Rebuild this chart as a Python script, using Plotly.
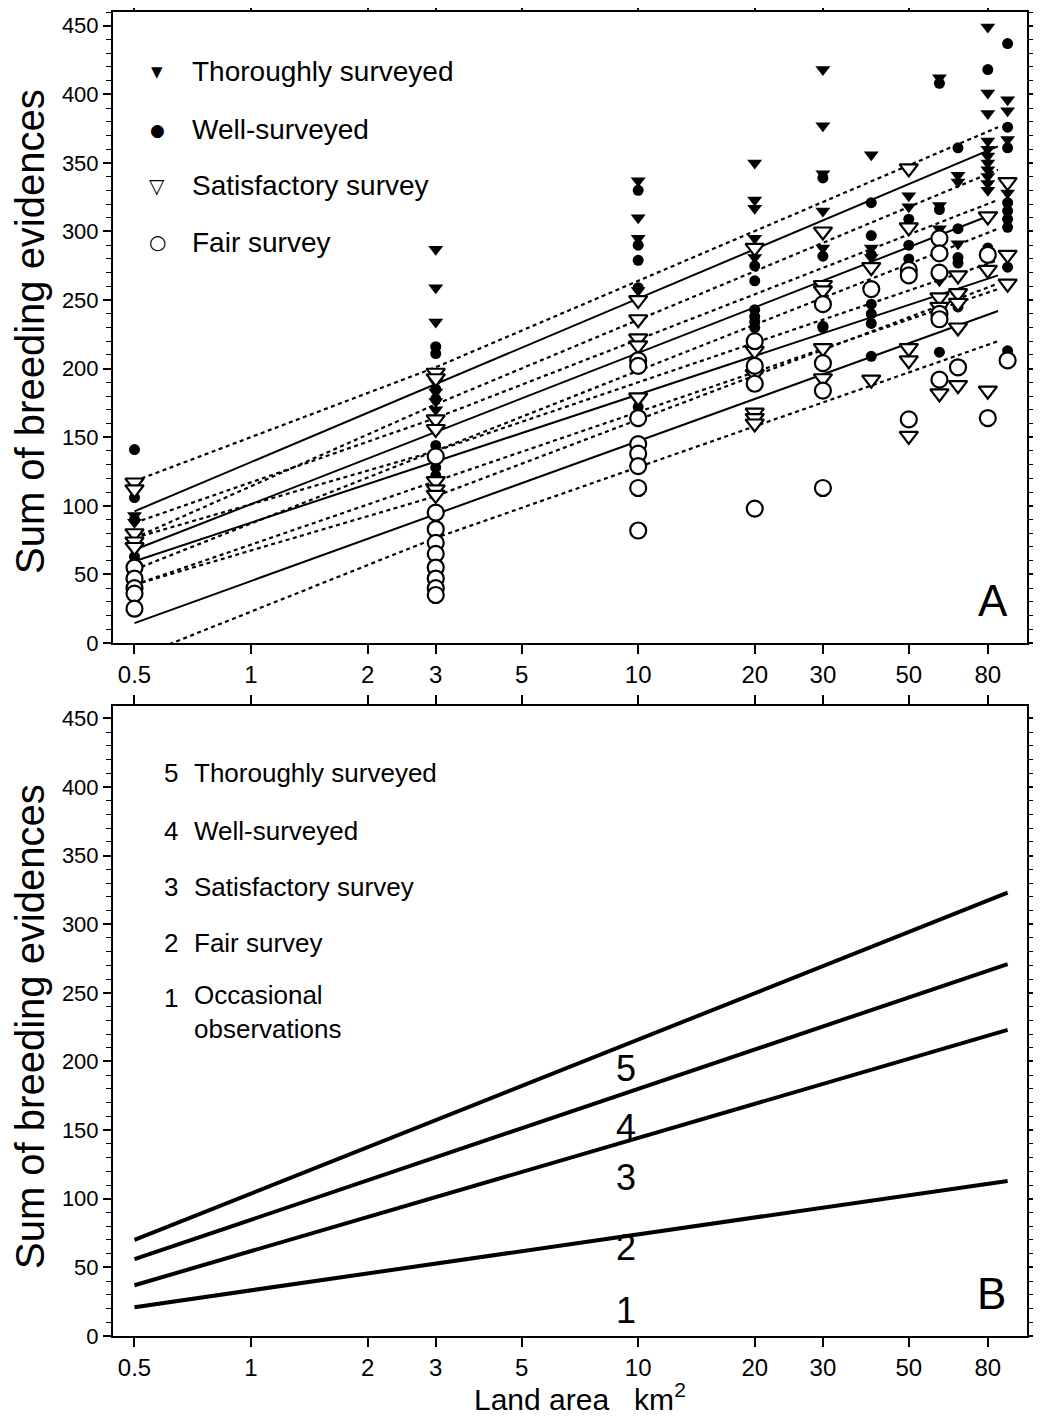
import math
import plotly.graph_objects as go

# ---------------- Panel A : observed sums of breeding evidences ----------------
areas = [0.5, 3, 10, 20, 30, 40, 50, 60, 67, 80, 90]

thorough_vals = [
    [93, 88, 68],
    [287, 259, 234, 190, 183, 176, 170],
    [337, 310, 295, 257],
    [350, 323, 317, 295, 281],
    [418, 377, 342, 315, 288],
    [356, 288, 281],
    [326, 318],
    [412, 319, 302, 264],
    [341, 336, 291],
    [449, 401, 386, 366, 360, 355, 350, 345, 340, 335, 330],
    [396, 388, 367, 328],
]
well_vals = [
    [141, 106, 90, 63],
    [216, 211, 192, 185, 178, 144, 128, 122],
    [330, 290, 279, 259, 172],
    [275, 264, 243, 238, 234, 230],
    [339, 282, 231, 230],
    [321, 297, 283, 247, 240, 233, 209],
    [309, 290, 280],
    [408, 316, 212],
    [361, 302, 281, 277, 245],
    [418, 288],
    [437, 376, 361, 321, 315, 309, 303, 274, 213],
]
satisf_vals = [
    [117, 112, 80, 74, 70],
    [197, 193, 163, 156, 118, 112, 108],
    [250, 236, 222, 217, 179],
    [288, 213, 196, 168, 164, 160],
    [300, 261, 257, 215, 193],
    [274, 192],
    [346, 303, 215, 206, 151],
    [252, 245, 182],
    [268, 255, 248, 230, 188],
    [311, 272, 184],
    [336, 283, 262],
]
fair_vals = [
    [55, 47, 40, 36, 25],
    [136, 95, 83, 73, 65, 55, 47, 40, 35],
    [206, 202, 164, 145, 138, 129, 113, 82],
    [220, 202, 189, 98],
    [247, 204, 184, 113],
    [258],
    [272, 268, 163],
    [295, 284, 270, 240, 236, 192],
    [201],
    [283, 164],
    [206],
]

# regression lines (solid) and confidence bands (dotted)
fit_x = [0.5, 85]
fit_thorough = [96, 362]
fit_well = [68, 314]
fit_satisf = [59.6, 268]
fit_fair = [14.5, 242]

band_x = [0.5, 3, 85]
band_thorough_hi = [118, 201, 376]
band_thorough_lo = [76.6, 174, 345]
band_well_hi = [87.6, 164, 323]
band_well_lo = [53.5, 140, 302]
band_satisf_hi = [76.6, 140, 279]
band_satisf_lo = [42.5, 118, 258]
band_fair_hi = [42.5, 107, 262]
band_fair_lo = [-11, 76.6, 220]

# ---------------- Panel B : model lines ----------------
model_x = [0.5, 90]
model_5 = [70, 323]
model_4 = [56, 271]
model_3 = [37, 223]
model_1 = [21, 113]

x_ticks = [0.5, 1, 2, 3, 5, 10, 20, 30, 50, 80]
x_tick_text = ["0.5", "1", "2", "3", "5", "10", "20", "30", "50", "80"]
y_ticks = list(range(0, 451, 50))

FONT = "Liberation Sans, Arial, Helvetica, sans-serif"
OFF = 8  # page body margin
W, H = 1041 - 2 * OFF, 1425 - 2 * OFF
ML = 113 - OFF
MT = 12 - OFF
MR = W - (1027 - OFF)
MB = H - (1336 - OFF)
PW = W - ML - MR
PH = H - MT - MB


def px(x):
    return (x - OFF - ML) / PW


def py(y):
    return (H - MB - (y - OFF)) / PH


def flatten(vals):
    xs, ys = [], []
    for a, v in zip(areas, vals):
        for yv in v:
            xs.append(a)
            ys.append(yv)
    return xs, ys


fig = go.Figure()

# lines panel A
dot = dict(color="black", width=2.2, dash="4px,3.5px")
sol = dict(color="black", width=2)
for b in [band_thorough_hi, band_thorough_lo, band_well_hi, band_well_lo,
          band_satisf_hi, band_satisf_lo, band_fair_hi, band_fair_lo]:
    fig.add_trace(go.Scatter(x=band_x, y=b, mode="lines", line=dot,
                             showlegend=False, hoverinfo="skip", xaxis="x", yaxis="y"))
for f in [fit_thorough, fit_well, fit_satisf, fit_fair]:
    fig.add_trace(go.Scatter(x=fit_x, y=f, mode="lines", line=sol,
                             showlegend=False, hoverinfo="skip", xaxis="x", yaxis="y"))

# markers panel A
specs = [
    ("Thoroughly surveyed", thorough_vals, dict(symbol="triangle-down", size=13, color="black",
                                                line=dict(width=0))),
    ("Well-surveyed", well_vals, dict(symbol="circle", size=11, color="black",
                                      line=dict(width=0))),
    ("Satisfactory survey", satisf_vals, dict(symbol="triangle-down", size=16, color="white",
                                              line=dict(width=2.2, color="black"))),
    ("Fair survey", fair_vals, dict(symbol="circle", size=16, color="white",
                                    line=dict(width=2.2, color="black"))),
]
for name, vals, mk in specs:
    xs, ys = flatten(vals)
    fig.add_trace(go.Scatter(x=xs, y=ys, mode="markers", marker=mk, name=name,
                             showlegend=False, xaxis="x", yaxis="y", cliponaxis=False))

# lines panel B
for m in [model_5, model_4, model_3, model_1]:
    fig.add_trace(go.Scatter(x=model_x, y=m, mode="lines", line=dict(color="black", width=4),
                             showlegend=False, hoverinfo="skip", xaxis="x2", yaxis="y2"))

xrange = [math.log10(0.44), math.log10(101)]
xax = dict(type="log", range=xrange, tickvals=x_ticks, ticktext=x_tick_text,
           ticks="outside", ticklen=9, tickwidth=1.5, tickcolor="black",
           showline=True, linewidth=2, linecolor="black", mirror="ticks",
           showgrid=False, zeroline=False, automargin=False,
           tickfont=dict(family=FONT, size=24, color="black"))
yax = dict(range=[0, 460], tickvals=y_ticks, ticks="outside", ticklen=8, tickwidth=1.5,
           tickcolor="black", showline=True, linewidth=2, linecolor="black",
           mirror="ticks", showgrid=False, zeroline=False, automargin=False,
           minor=dict(dtick=10, tick0=0, ticks="outside", ticklen=5, tickcolor="black",
                      tickwidth=1.2, showgrid=False),
           tickfont=dict(family=FONT, size=22, color="black"))

domA = [py(643), 1.0]
domB = [0.0, py(706)]

fig.update_layout(
    width=W, height=H,
    margin=dict(l=ML, r=MR, t=MT, b=MB, pad=0, autoexpand=False),
    paper_bgcolor="white", plot_bgcolor="white",
    font=dict(family=FONT, color="black"),
    xaxis=dict(xax, anchor="y"),
    yaxis=dict(yax, domain=domA, anchor="x"),
    xaxis2=dict(xax, anchor="y2"),
    yaxis2=dict(yax, domain=domB, anchor="x2", range=[0, 459]),
)

ann = []
# legend panel A
sym = ["\u25BC", "\u25CF", "\u25BD", "\u25CB"]
sym_size = [15, 17, 20, 20]
leg_y = [72, 130, 186, 242]
for s, ss, (name, _, _), yy in zip(sym, sym_size, specs, leg_y):
    ann.append(dict(x=px(157), y=py(yy), xref="paper", yref="paper", text=s, showarrow=False,
                    xanchor="center", yanchor="middle",
                    font=dict(family="DejaVu Sans", size=ss, color="black")))
    ann.append(dict(x=px(190), y=py(yy), xref="paper", yref="paper", text=name, showarrow=False,
                    xanchor="left", yanchor="middle", font=dict(family=FONT, size=28, color="black")))

# legend panel B
legB = [("5", "Thoroughly surveyed", 773, 773), ("4", "Well-surveyed", 831, 831),
        ("3", "Satisfactory survey", 887, 887), ("2", "Fair survey", 943, 943),
        ("1", "Occasional<br>observations", 998, 1012)]
for num, txt, ny, ty in legB:
    ann.append(dict(x=px(171), y=py(ny), xref="paper", yref="paper", text=num, showarrow=False,
                    xanchor="center", yanchor="middle",
                    font=dict(family=FONT, size=26, color="black")))
    ann.append(dict(x=px(192), y=py(ty), xref="paper", yref="paper", text=txt, showarrow=False,
                    xanchor="left", yanchor="middle", align="left",
                    font=dict(family=FONT, size=26, color="black")))

# region labels in panel B
for lab, yy in [("5", 1068), ("4", 1127), ("3", 1177), ("2", 1247), ("1", 1310)]:
    ann.append(dict(x=px(626), y=py(yy), xref="paper", yref="paper", text=lab, showarrow=False,
                    xanchor="center", yanchor="middle",
                    font=dict(family=FONT, size=36, color="black")))

# panel letters
ann.append(dict(x=px(993), y=py(600), xref="paper", yref="paper", text="A", showarrow=False,
                xanchor="center", yanchor="middle", font=dict(family=FONT, size=44, color="black")))
ann.append(dict(x=px(991), y=py(1293), xref="paper", yref="paper", text="B", showarrow=False,
                xanchor="center", yanchor="middle", font=dict(family=FONT, size=44, color="black")))

# axis titles
for yc in [332, 1027]:
    ann.append(dict(x=px(30), y=py(yc), xref="paper", yref="paper",
                    text="Sum of breeding evidences", textangle=-90, showarrow=False,
                    xanchor="center", yanchor="middle",
                    font=dict(family=FONT, size=40, color="black")))
ann.append(dict(x=px(580), y=py(1397), xref="paper", yref="paper",
                text="Land area\u00a0\u00a0\u00a0km<sup>2</sup>", showarrow=False,
                xanchor="center", yanchor="middle", font=dict(family=FONT, size=30, color="black")))

fig.update_layout(annotations=ann)
fig.write_html("out.html")
